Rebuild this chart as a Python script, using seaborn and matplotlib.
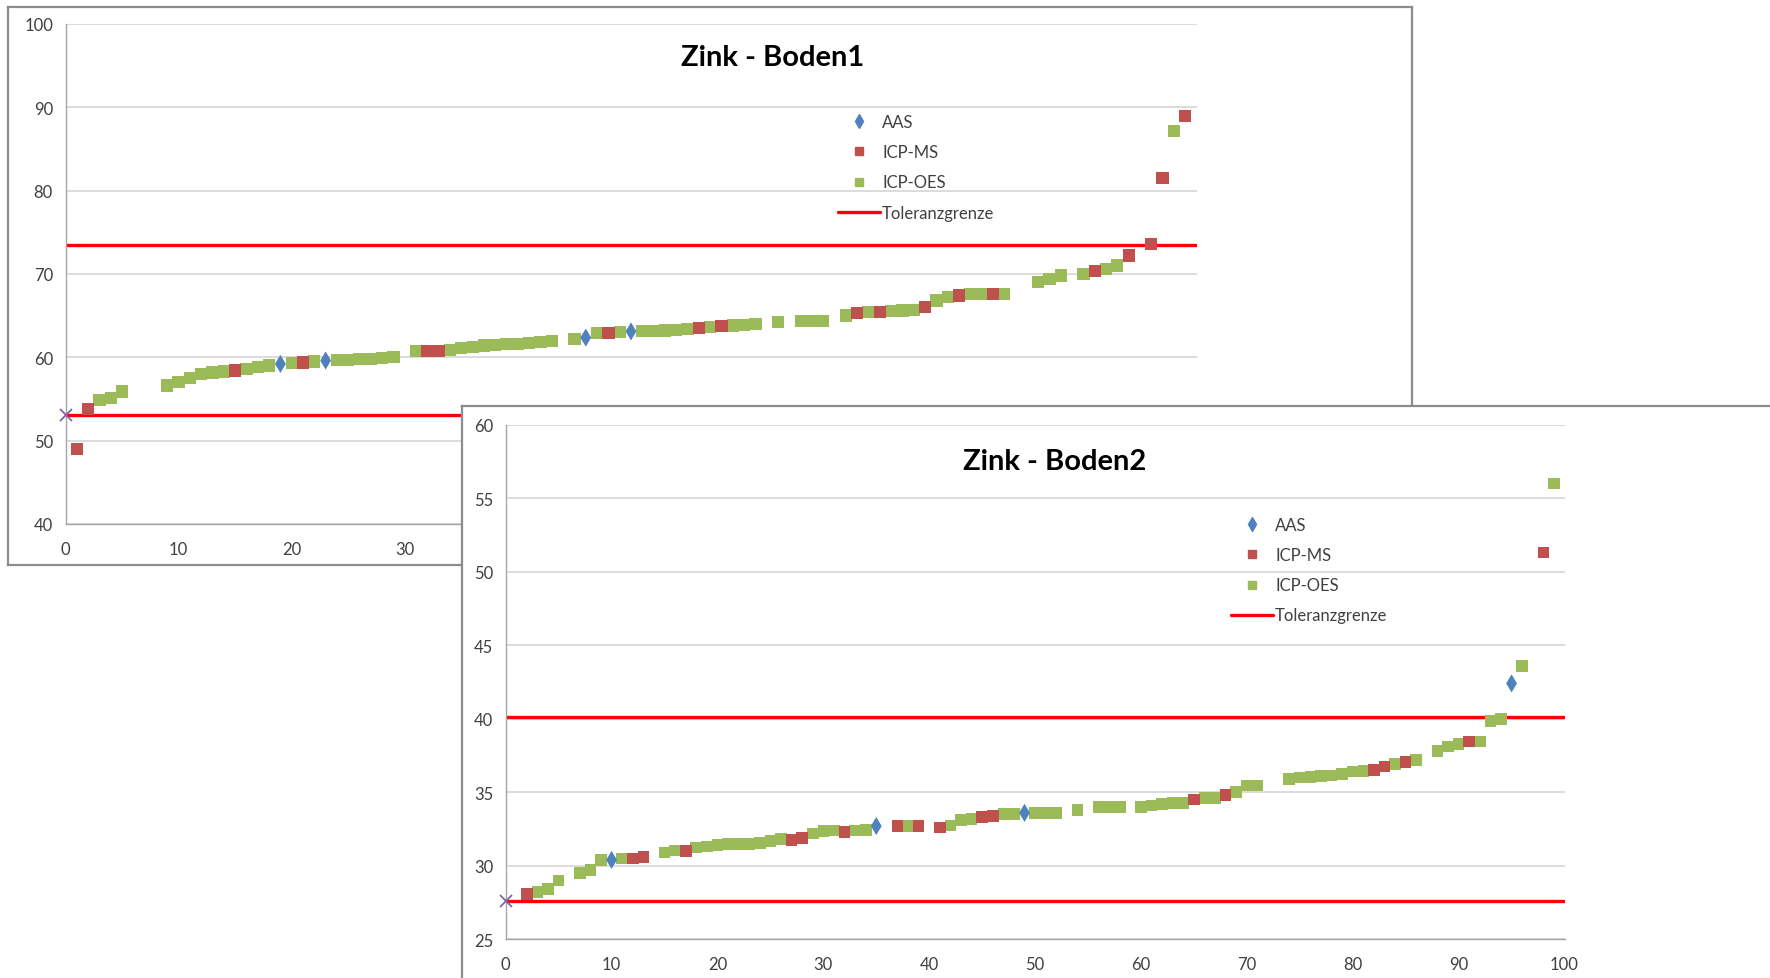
import numpy as np
import pandas as pd
import matplotlib
matplotlib.use("Agg")
import matplotlib.pyplot as plt
import seaborn as sns
from matplotlib.lines import Line2D

sns.set_style("white")
plt.rcParams['font.family'] = ['Lato', 'DejaVu Sans']

W, H = 1770, 979

# ---------------- Data: Zink - Boden1 ----------------
b1_aas_x = [19, 23, 46, 50]
b1_aas_y = [59.2, 59.6, 62.35, 63.1]
b1_ms_x = [1, 2, 15, 21, 32, 33, 48, 56, 58, 70, 72, 76, 79, 82, 91, 94, 96, 97, 99]
b1_ms_y = [49.0, 53.8, 58.4, 59.35, 60.75, 60.75, 62.9, 63.5, 63.7, 65.3, 65.4, 66.0,
           67.4, 67.6, 70.3, 72.2, 73.6, 81.5, 88.9]
b1_oes_x = [3, 4, 5, 9, 10, 11, 12, 13, 14, 16, 17, 18, 20, 22, 24, 25, 26, 27, 28, 29,
            31, 34, 35, 36, 37, 38, 39, 40, 41, 42, 43, 45, 47, 49, 51, 52, 53, 54, 55,
            57, 59, 60, 61, 63, 65, 66, 67, 69, 71, 73, 74, 75, 77, 78, 80, 81, 83, 86,
            87, 88, 90, 92, 93, 98]
b1_oes_y = [54.9, 55.1, 55.9, 56.6, 57.0, 57.5, 58.0, 58.15, 58.3, 58.6, 58.8, 59.0, 59.3,
            59.5, 59.7, 59.7, 59.75, 59.8, 59.9, 60.0, 60.7, 60.9, 61.1, 61.25, 61.4, 61.5,
            61.55, 61.6, 61.7, 61.8, 61.9, 62.2, 62.9, 63.0, 63.1, 63.15, 63.2, 63.3, 63.4,
            63.6, 63.8, 63.85, 64.0, 64.2, 64.3, 64.3, 64.3, 65.0, 65.4, 65.5, 65.6, 65.7,
            66.8, 67.2, 67.6, 67.6, 67.6, 69.0, 69.4, 69.8, 70.0, 70.6, 71.0, 87.1]
b1_tol = [53.1, 73.5]

# ---------------- Data: Zink - Boden2 ----------------
b2_aas_x = [10, 35, 49, 95]
b2_aas_y = [30.4, 32.7, 33.6, 42.4]
b2_ms_x = [2, 12, 13, 17, 27, 28, 32, 37, 39, 41, 45, 46, 65, 68, 82, 83, 85, 91, 98]
b2_ms_y = [28.1, 30.5, 30.6, 31.0, 31.75, 31.9, 32.3, 32.7, 32.7, 32.6, 33.3, 33.4,
           34.5, 34.8, 36.5, 36.75, 37.05, 38.45, 51.3]
b2_oes_x = [3, 4, 5, 7, 8, 9, 11, 15, 16, 18, 19, 20, 21, 22, 23, 24, 25, 26, 29, 30, 31,
            33, 34, 38, 42, 43, 44, 47, 48, 50, 51, 52, 54, 56, 57, 58, 60, 61, 62, 63, 64,
            66, 67, 69, 70, 71, 74, 75, 76, 77, 78, 79, 80, 81, 84, 86, 88, 89, 90, 92,
            93, 94, 96, 99]
b2_oes_y = [28.2, 28.4, 29.0, 29.5, 29.7, 30.4, 30.5, 30.9, 31.05, 31.25, 31.3, 31.4,
            31.5, 31.5, 31.5, 31.55, 31.7, 31.8, 32.2, 32.35, 32.4, 32.4, 32.45, 32.7,
            32.75, 33.1, 33.2, 33.5, 33.5, 33.6, 33.6, 33.6, 33.8, 34.0, 34.0, 34.0, 34.0,
            34.1, 34.2, 34.25, 34.25, 34.6, 34.6, 35.0, 35.45, 35.45, 35.9, 36.0, 36.05,
            36.1, 36.15, 36.25, 36.4, 36.45, 36.9, 37.2, 37.8, 38.1, 38.3, 38.45, 39.85,
            40.0, 43.6, 56.0]
b2_tol = [27.6, 40.1]

methods = ["AAS", "ICP-MS", "ICP-OES"]
tol_label = "Toleranzgrenze"
titles = ["Zink - Boden1", "Zink - Boden2"]

C_AAS, C_MS, C_OES = "#4F81BD", "#C0504D", "#9BBB59"
C_TOL, C_X = "#FF0000", "#8064A2"
palette = {"AAS": C_AAS, "ICP-MS": C_MS, "ICP-OES": C_OES}
markers = {"AAS": "d", "ICP-MS": "s", "ICP-OES": "s"}


def make_df(aas_x, aas_y, ms_x, ms_y, oes_x, oes_y):
    parts = [
        pd.DataFrame({"x": oes_x, "y": oes_y, "Methode": "ICP-OES"}),
        pd.DataFrame({"x": ms_x, "y": ms_y, "Methode": "ICP-MS"}),
        pd.DataFrame({"x": aas_x, "y": aas_y, "Methode": "AAS"}),
    ]
    return pd.concat(parts, ignore_index=True)


df1 = make_df(b1_aas_x, b1_aas_y, b1_ms_x, b1_ms_y, b1_oes_x, b1_oes_y)
df2 = make_df(b2_aas_x, b2_aas_y, b2_ms_x, b2_ms_y, b2_oes_x, b2_oes_y)

fig = plt.figure(figsize=(W / 100, H / 100), dpi=100)
fig.patch.set_facecolor("white")


def fr(l, t, r, b):
    return [l / W, 1 - b / H, (r - l) / W, (b - t) / H]


def frame(rect, z):
    a = fig.add_axes(rect)
    a.set_zorder(z)
    a.set_facecolor("white")
    a.set_xticks([])
    a.set_yticks([])
    for s in a.spines.values():
        s.set_color("#8C8C8C")
        s.set_linewidth(1.6)
    return a


def chart(rect, z, df, tol, ylim, ystep, title, title_xy, leg_xy, sq):
    ax = fig.add_axes(rect)
    ax.set_zorder(z)
    ax.set_facecolor("white")
    ax.set_xlim(0, 100)
    ax.set_ylim(*ylim)
    ax.set_xticks(np.arange(0, 101, 10))
    ax.set_yticks(np.arange(ylim[0], ylim[1] + 0.1, ystep))
    ax.yaxis.grid(True, color="#D9D9D9", lw=1.3)
    ax.xaxis.grid(False)
    ax.set_axisbelow(True)
    for s in ["top", "right"]:
        ax.spines[s].set_visible(False)
    for s in ["left", "bottom"]:
        ax.spines[s].set_color("#A6A6A6")
        ax.spines[s].set_linewidth(1.0)
    ax.tick_params(axis="both", direction="out", length=4, width=1, color="#A6A6A6",
                   labelcolor="#404040", labelsize=12)
    ax.tick_params(axis="y", pad=5)
    ax.tick_params(axis="x", pad=8)
    for t in tol:
        ax.plot([0, 100], [t, t], color=C_TOL, lw=2.4, zorder=2, solid_capstyle="butt")
    ax.plot([0], [tol[0]], marker="x", color=C_X, ms=9, mew=1.3, ls="none",
            zorder=4, clip_on=False)
    sizes = {"AAS": 85, "ICP-MS": sq, "ICP-OES": sq}
    sns.scatterplot(data=df, x="x", y="y", hue="Methode", style="Methode",
                    size="Methode", sizes=sizes, markers=markers, palette=palette,
                    linewidth=0, ax=ax, legend=False, zorder=3, clip_on=False)
    ax.set_xlabel("")
    ax.set_ylabel("")
    ax.text(title_xy[0] / W, 1 - title_xy[1] / H, title, transform=fig.transFigure,
            ha="center", va="center", fontsize=21, fontweight="bold", color="black")
    handles = [
        Line2D([], [], marker="d", color=C_AAS, ls="none", ms=7),
        Line2D([], [], marker="s", color=C_MS, ls="none", ms=6.3),
        Line2D([], [], marker="s", color=C_OES, ls="none", ms=6.3),
        Line2D([], [], color=C_TOL, lw=2.4),
    ]
    leg = ax.legend(handles, methods + [tol_label], loc="upper left",
                    bbox_to_anchor=(leg_xy[0] / W, 1 - leg_xy[1] / H),
                    bbox_transform=fig.transFigure, frameon=False, fontsize=12,
                    handlelength=2.5, handletextpad=0.15, labelspacing=0.85,
                    borderpad=0, borderaxespad=0)
    for t in leg.get_texts():
        t.set_color("#404040")
    return ax


frame(fr(8, 8, 1412, 566), 0)
chart(fr(65.5, 24.8, 1196.5, 524.9), 1, df1, b1_tol, (40, 100), 10,
      titles[0], (773, 58), (838, 115), 78)
frame(fr(462, 406.5, 1800, 1010), 2)
chart(fr(505.7, 425.6, 1564.5, 940.3), 3, df2, b2_tol, (25, 60), 5,
      titles[1], (1055, 462), (1231, 518), 70)

fig.savefig("out.png", dpi=100, facecolor="white")
